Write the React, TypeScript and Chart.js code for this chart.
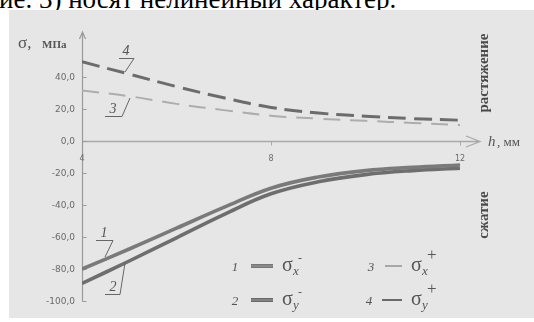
import React, { useEffect, useRef } from "react";
import { Chart, registerables } from "chart.js";

Chart.register(...registerables);

const hValues = [4, 5, 6, 7, 8, 9, 10, 11, 12];
const sigmaXMinus = [-80, -67.5, -54.5, -41.5, -29.5, -22.5, -18.5, -16.5, -15];
const sigmaYMinus = [-89, -75, -60.5, -46, -33, -25.5, -21, -18.5, -17];
const sigmaXPlus = [31.5, 28, 23.2, 19.3, 15.8, 14, 12.6, 11.3, 10];
const sigmaYPlus = [49.5, 41.8, 34, 27, 21, 17.5, 15.5, 14, 13];
const yTicks = [40, 20, 0, -20, -40, -60, -80, -100];
const xTicks = [4, 8, 12];

const W = 534;
const H = 322;

const pts = (vals: number[]) => vals.map((v, i) => ({ x: hValues[i], y: v }));
const fmt = (v: number) => v.toFixed(1).replace(".", ",");

const SERIF = "'Liberation Serif', 'DejaVu Serif', serif";
const SANS = "'DejaVu Sans', sans-serif";

const decor = {
  id: "decor",
  beforeDatasetsDraw(chart: any) {
    const { ctx, scales } = chart;
    const xs = scales.x;
    const ys = scales.y;
    const x0 = Math.round(xs.getPixelForValue(xTicks[0])) + 0.5;
    const y0 = Math.round(ys.getPixelForValue(0)) + 0.5;
    const yBottom = Math.round(ys.getPixelForValue(-100)) + 0.5;
    ctx.save();
    ctx.strokeStyle = "#a9a9a9";
    ctx.lineWidth = 1.3;
    ctx.beginPath();
    ctx.moveTo(x0, y0);
    ctx.lineTo(480, y0);
    ctx.moveTo(466, y0 - 5.5);
    ctx.lineTo(480, y0);
    ctx.lineTo(466, y0 + 5.5);
    ctx.stroke();
    ctx.lineWidth = 1;
    ctx.beginPath();
    xTicks.forEach((t) => {
      const px = Math.round(xs.getPixelForValue(t)) + 0.5;
      ctx.moveTo(px, y0);
      ctx.lineTo(px, y0 + 4);
    });
    ctx.stroke();
    ctx.strokeStyle = "#9a9a9a";
    ctx.lineWidth = 1.2;
    ctx.beginPath();
    ctx.moveTo(x0, yBottom);
    ctx.lineTo(x0, 32);
    ctx.moveTo(x0 - 3, 39);
    ctx.lineTo(x0, 32);
    ctx.lineTo(x0 + 3, 39);
    ctx.stroke();
    ctx.lineWidth = 1;
    ctx.beginPath();
    yTicks.forEach((t) => {
      const py = Math.round(ys.getPixelForValue(t)) + 0.5;
      ctx.moveTo(x0, py);
      ctx.lineTo(x0 + 4, py);
    });
    ctx.stroke();
    ctx.fillStyle = "#6a6a6a";
    ctx.font = `9px ${SANS}`;
    ctx.textAlign = "right";
    ctx.textBaseline = "middle";
    yTicks.forEach((t) => {
      ctx.fillText(fmt(t), 75, ys.getPixelForValue(t) + 0.5);
    });
    ctx.font = `8px ${SANS}`;
    ctx.textAlign = "center";
    xTicks.forEach((t) => {
      ctx.fillText(String(t), xs.getPixelForValue(t), y0 + 17);
    });
    ctx.restore();
  },
  afterDatasetsDraw(chart: any) {
    const { ctx } = chart;
    ctx.save();
    ctx.fillStyle = "#555";
    ctx.strokeStyle = "#666";
    ctx.textBaseline = "alphabetic";
    ctx.textAlign = "left";
    ctx.font = `17px ${SERIF}`;
    ctx.fillText("σ,", 18, 48);
    ctx.font = `bold 11px ${SERIF}`;
    ctx.fillText("МПа", 42, 48);
    ctx.font = `italic 15px ${SERIF}`;
    ctx.fillText("h", 488, 146);
    ctx.font = `13px ${SERIF}`;
    ctx.fillText(", мм", 497, 146);
    ctx.font = `bold 15px ${SERIF}`;
    ctx.textAlign = "center";
    ctx.textBaseline = "middle";
    ctx.fillStyle = "#4a4a4a";
    [["растяжение", 73], ["сжатие", 215]].forEach(([txt, cy]) => {
      ctx.save();
      ctx.translate(484, cy as number);
      ctx.rotate(-Math.PI / 2);
      ctx.fillText(txt as string, 0, 0);
      ctx.restore();
    });
    ctx.fillStyle = "#555";
    ctx.textBaseline = "alphabetic";
    ctx.font = `italic 14px ${SERIF}`;
    ctx.lineWidth = 1;
    const callouts: [string, number, number, number, number, number, number, number][] = [
      ["4", 126, 55, 119, 134, 58, 125, 72],
      ["3", 113, 113, 105, 122, 116, 130, 98],
      ["1", 104, 237, 96, 113, 240, 105, 257],
      ["2", 113, 291, 105, 120, 294, 125, 263],
    ];
    callouts.forEach(([t, tx, ty, ux1, ux2, uy, lx2, ly2]) => {
      ctx.fillText(t, tx, ty);
      ctx.beginPath();
      ctx.moveTo(ux1, uy + 0.5);
      ctx.lineTo(ux2, uy + 0.5);
      ctx.lineTo(lx2, ly2);
      ctx.stroke();
    });
    const drawLegend = (
      num: string,
      nx: number,
      lx1: number,
      lx2: number,
      sx: number,
      base: number,
      sub: string,
      sup: string,
      thick: boolean,
      color: string
    ) => {
      ctx.fillStyle = "#555";
      ctx.textAlign = "center";
      ctx.font = `italic 13px ${SERIF}`;
      ctx.fillText(num, nx, base);
      const ly = base - 5;
      ctx.beginPath();
      ctx.moveTo(lx1, ly);
      ctx.lineTo(lx2, ly);
      ctx.strokeStyle = color;
      ctx.lineWidth = thick ? 4 : 2;
      ctx.stroke();
      if (thick) {
        ctx.beginPath();
        ctx.moveTo(lx1, ly);
        ctx.lineTo(lx2, ly);
        ctx.strokeStyle = "#9c9c9c";
        ctx.lineWidth = 1;
        ctx.stroke();
      }
      ctx.textAlign = "left";
      ctx.fillStyle = "#555";
      ctx.font = `20px ${SERIF}`;
      ctx.fillText("σ", sx, base);
      ctx.font = `italic 13px ${SERIF}`;
      ctx.fillText(sub, sx + 11, base + 4);
      ctx.font = sup === "+" ? `17px ${SERIF}` : `12px ${SERIF}`;
      ctx.fillText(sup, sx + 16, base - (sup === "+" ? 11 : 9));
    };
    drawLegend("1", 235, 251, 273, 282, 271, "x", "-", true, "#777");
    drawLegend("2", 235, 251, 273, 282, 305, "y", "-", true, "#6a6a6a");
    drawLegend("3", 371, 385, 402, 411, 271, "x", "+", false, "#a8a8a8");
    drawLegend("4", 369, 382, 402, 411, 305, "y", "+", false, "#6a6a6a");
    ctx.restore();
  },
};

export default function App() {
  const ref = useRef<HTMLCanvasElement | null>(null);
  useEffect(() => {
    if (!ref.current) return;
    const chart = new Chart(ref.current, {
      type: "line",
      data: {
        datasets: [
          {
            label: "σy+",
            data: pts(sigmaYPlus),
            borderColor: "#6c6c6c",
            borderWidth: 3,
            borderDash: [18, 8],
            tension: 0.4,
          },
          {
            label: "σx+",
            data: pts(sigmaXPlus),
            borderColor: "#adadad",
            borderWidth: 2,
            borderDash: [17, 10],
            tension: 0.4,
          },
          {
            label: "σx-",
            data: pts(sigmaXMinus),
            borderColor: "#7a7a7a",
            borderWidth: 3.6,
            tension: 0.4,
          },
          {
            label: "σy-",
            data: pts(sigmaYMinus),
            borderColor: "#6e6e6e",
            borderWidth: 3.6,
            tension: 0.4,
          },
          {
            label: "σx- core",
            data: pts(sigmaXMinus),
            borderColor: "#a2a2a2",
            borderWidth: 1,
            tension: 0.4,
          },
          {
            label: "σy- core",
            data: pts(sigmaYMinus),
            borderColor: "#999999",
            borderWidth: 1,
            tension: 0.4,
          },
        ],
      },
      options: {
        responsive: false,
        animation: false,
        layout: { padding: { left: 82, right: 74, top: 45, bottom: 21 } },
        elements: { point: { radius: 0 } },
        scales: {
          x: { type: "linear", min: 4, max: 12, display: false },
          y: { type: "linear", min: -100, max: 60, display: false },
        },
        plugins: { legend: { display: false }, tooltip: { enabled: false } },
      },
      plugins: [decor],
    } as any);
    return () => chart.destroy();
  }, []);

  return (
    <div
      style={{
        position: "absolute",
        left: 0,
        top: 0,
        width: W,
        height: H,
        background: "#ffffff",
        overflow: "hidden",
      }}
    >
      <div
        style={{
          position: "absolute",
          left: -1,
          top: -14,
          fontFamily: SERIF,
          fontSize: 27,
          lineHeight: "26px",
          whiteSpace: "nowrap",
          color: "#000",
        }}
      >
        ие. 3) носят нелинейный характер.
      </div>
      <div
        style={{
          position: "absolute",
          left: 9,
          top: 10,
          width: W - 9,
          height: 308,
          background: "#e6e6e6",
        }}
      />
      <canvas
        ref={ref}
        width={W}
        height={H}
        style={{ position: "absolute", left: 0, top: 0, width: W, height: H }}
      />
    </div>
  );
}
